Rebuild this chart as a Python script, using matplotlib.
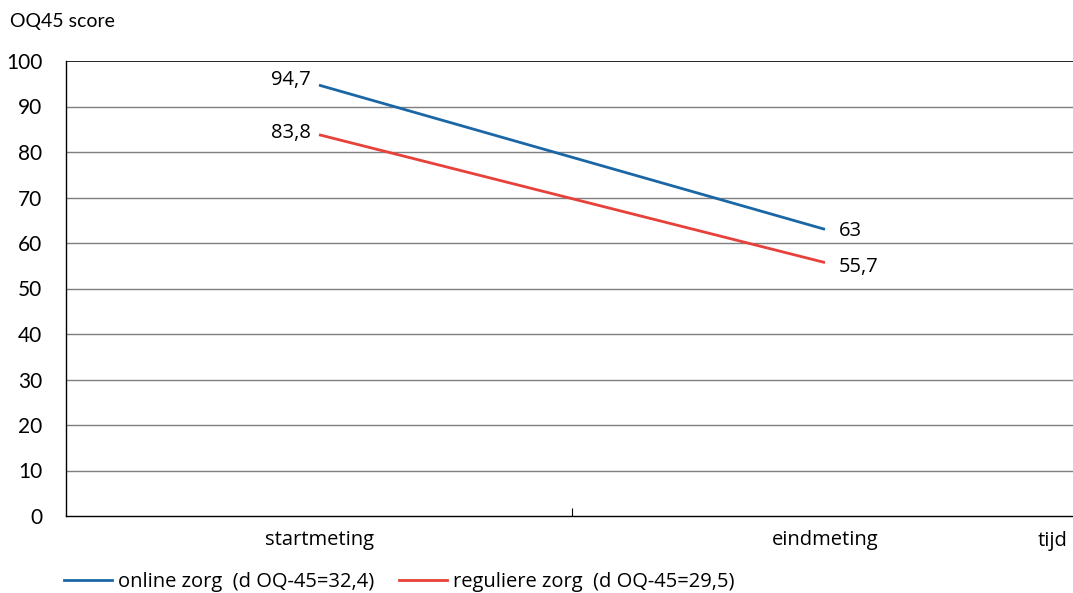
import matplotlib
matplotlib.use("Agg")
import matplotlib.pyplot as plt
from matplotlib.lines import Line2D

plt.rcParams['font.family'] = ['Open Sans', 'DejaVu Sans']
AXIS_FONT = ['Lato', 'DejaVu Sans']

categories = ["startmeting", "eindmeting"]
online = [94.7, 63]
regulier = [83.8, 55.7]
online_labels = ["94,7", "63"]
regulier_labels = ["83,8", "55,7"]
series_names = ["online zorg  (d OQ-45=32,4)", "reguliere zorg  (d OQ-45=29,5)"]
yticks = list(range(0, 101, 10))

BLUE = "#1b67a6"
RED = "#e8403a"
FS = 14.5

fig = plt.figure(figsize=(10.73, 5.93), dpi=100)
ax = fig.add_axes([66 / 1073, 77 / 593, (1078 - 66) / 1073, (516 - 61) / 593])

x = list(range(len(categories)))
ax.plot(x, online, color=BLUE, lw=2, solid_capstyle='butt')
ax.plot(x, regulier, color=RED, lw=2, solid_capstyle='butt')

ax.set_xlim(-0.5, 1.5)
ax.set_ylim(0, 100)
ax.set_yticks(yticks)
ax.set_yticklabels([str(v) for v in yticks], fontsize=15, family=AXIS_FONT)
ax.tick_params(axis='y', length=0, pad=17)
ax.set_xticks(x)
ax.set_xticklabels(categories, fontsize=FS)
ax.set_xticks([0.5], minor=True)
ax.tick_params(axis='x', which='major', length=0, pad=10)
ax.tick_params(axis='x', which='minor', direction='in', length=6, width=0.8, color='black')

for v in yticks[1:]:
    ax.axhline(v, color='black' if v == 100 else '#7f7f7f', lw=1.2 if v == 100 else 1.0, zorder=0.5)

for s in ['top', 'right']:
    ax.spines[s].set_visible(False)
ax.spines['left'].set_linewidth(1.0)
ax.spines['bottom'].set_linewidth(1.0)

# value labels
ax.annotate(online_labels[0], (x[0], online[0]), xytext=(-6, 4), textcoords='offset points',
            ha='right', va='center', fontsize=FS)
ax.annotate(regulier_labels[0], (x[0], regulier[0]), xytext=(-6, 1), textcoords='offset points',
            ha='right', va='center', fontsize=FS)
ax.annotate(online_labels[1], (x[1], online[1]), xytext=(10, -1), textcoords='offset points',
            ha='left', va='center', fontsize=FS)
ax.annotate(regulier_labels[1], (x[1], regulier[1]), xytext=(10, -3), textcoords='offset points',
            ha='left', va='center', fontsize=FS)

fig.text(10 / 1073, 1 - 22 / 593, "OQ45 score", fontsize=14, family=AXIS_FONT, ha='left', va='center')
fig.text(1053 / 1073, 1 - 541 / 593, "tijd", fontsize=FS, ha='center', va='center')

handles = [Line2D([], [], color=BLUE, lw=2), Line2D([], [], color=RED, lw=2)]
fig.legend(handles, series_names, loc='center left', bbox_to_anchor=(64 / 1073, 1 - 582 / 593),
           ncol=2, frameon=False, fontsize=FS, handlelength=2.4, handletextpad=0.3,
           columnspacing=1.2, borderaxespad=0, borderpad=0)

fig.savefig("out.png", dpi=100)
